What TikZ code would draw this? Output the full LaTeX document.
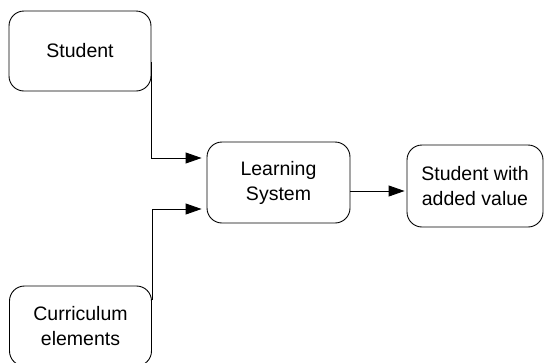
\documentclass[tikz,border=0pt]{standalone}
\usepackage{fontspec}
\setmainfont{Liberation Sans}
\usetikzlibrary{arrows.meta}
\begin{document}
\begin{tikzpicture}[x=1pt,y=-1pt,
  box/.style={draw, line width=0.9pt, rounded corners=15pt, align=center,
    inner sep=0pt, font=\fontsize{19.5pt}{25pt}\selectfont},
  arr/.style={line width=0.9pt, -{Triangle[length=16pt,width=11pt]}}]
\useasboundingbox (0,0) rectangle (544,362);
\clip (0,0) rectangle (544,362);
\node[box, minimum width=142pt, minimum height=80pt] (stu) at (80,51) {Student};
\node[box, minimum width=143pt, minimum height=81pt] (ls) at (278.5,182.5) {Learning\\System};
\node[box, minimum width=136pt, minimum height=82pt] (sav) at (475,186) {Student with\\added value};
\node[box, minimum width=142pt, minimum height=80pt] (cur) at (80.5,326) {Curriculum\\elements};
\draw[arr] ([yshift=-11pt]stu.east) |- ([xshift=-5pt,yshift=24.5pt]ls.west);
\draw[arr] ([yshift=26pt]cur.east) |- ([xshift=-5pt,yshift=-26.5pt]ls.west);
\draw[arr] ([yshift=-8.5pt]ls.east) -- ([xshift=-2pt,yshift=-5pt]sav.west);
\end{tikzpicture}
\end{document}
